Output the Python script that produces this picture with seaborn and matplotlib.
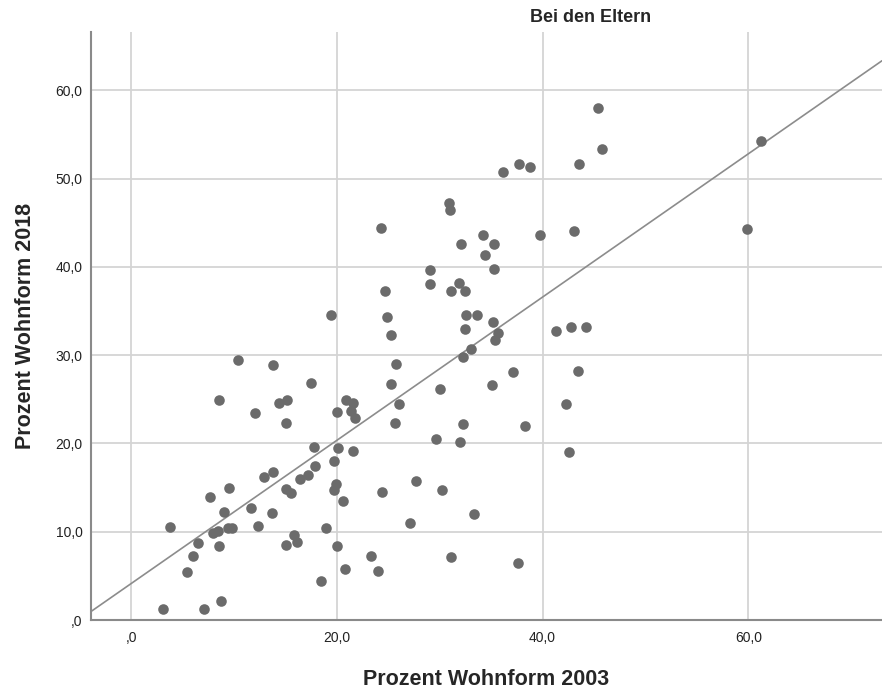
import numpy as np
import pandas as pd
import matplotlib
matplotlib.use('Agg')
from matplotlib import pyplot as plt
from matplotlib.ticker import FuncFormatter, MultipleLocator
import seaborn as sns

# Prozent Wohnform "Bei den Eltern", 2003 vs 2018
x2003 = [3.1, 7.1, 8.7, 5.4, 6.0, 6.5, 8.5, 3.8, 8.0, 8.4,
         9.45, 9.8, 7.7, 9.0, 9.5, 11.65, 12.3, 13.7, 12.9, 13.8,
         15.1, 15.5, 15.8, 16.1, 15.1, 16.4, 17.2, 17.9, 17.8, 18.5,
         18.9, 19.7, 19.9, 19.75, 20.0, 20.1, 20.6, 20.8, 21.6, 8.5,
         10.4, 12.0, 13.8, 14.4, 15.2, 15.1, 17.5, 19.4, 20.0, 20.9,
         21.6, 21.4, 21.75, 23.3, 24.0, 24.4, 24.3, 24.7, 24.9, 25.3,
         25.3, 25.7, 25.8, 26.0, 27.1, 27.7, 29.1, 29.1, 29.6, 30.0,
         30.2, 30.9, 31.0, 31.1, 31.1, 31.85, 32.5, 32.1, 32.0, 32.3,
         32.3, 32.5, 32.6, 33.0, 33.3, 33.6, 34.2, 34.4, 35.1, 35.2,
         35.3, 35.3, 35.7, 35.4, 36.2, 37.1, 37.6, 37.7, 38.25, 38.8,
         39.75, 41.3, 42.3, 42.6, 42.8, 43.1, 43.4, 43.5, 44.2, 45.4,
         45.8, 59.9, 61.2]
y2018 = [1.2, 1.3, 2.2, 5.4, 7.2, 8.7, 8.4, 10.55, 9.9, 10.1,
         10.4, 10.4, 13.9, 12.25, 15.0, 12.7, 10.7, 12.1, 16.2, 16.8,
         14.8, 14.4, 9.6, 8.8, 8.55, 16.0, 16.4, 17.4, 19.6, 4.4,
         10.4, 18.0, 15.35, 14.7, 8.4, 19.5, 13.5, 5.8, 19.1, 24.9,
         29.4, 23.5, 28.9, 24.6, 24.9, 22.3, 26.9, 34.6, 23.6, 24.9,
         24.6, 23.65, 22.85, 7.2, 5.5, 14.55, 44.45, 37.3, 34.3, 32.3,
         26.7, 22.3, 29.0, 24.5, 11.0, 15.7, 39.6, 38.1, 20.5, 26.2,
         14.7, 47.25, 46.4, 7.15, 37.3, 38.2, 37.3, 42.6, 20.2, 22.2,
         29.8, 33.0, 34.5, 30.7, 12.0, 34.6, 43.6, 41.3, 26.6, 33.8,
         42.6, 39.8, 32.5, 31.7, 50.7, 28.1, 6.4, 51.7, 22.0, 51.3,
         43.65, 32.7, 24.5, 19.05, 33.2, 44.1, 28.2, 51.7, 33.2, 58.0,
         53.4, 44.3, 54.2]

df = pd.DataFrame({'x': x2003, 'y': y2018})

sns.set_style('white')
plt.rcParams['font.family'] = ['Liberation Sans', 'DejaVu Sans']

fig = plt.figure(figsize=(8.82, 6.93), dpi=100)
ax = fig.add_axes([91 / 882, 73 / 693, 1 - 91 / 882, 588 / 693])

ax.set_xlim(-3.9, 73.0)
ax.set_ylim(0, 66.6)
ax.xaxis.set_major_locator(MultipleLocator(20))
ax.yaxis.set_major_locator(MultipleLocator(10))
ax.grid(True, color='#d4d4d4', linewidth=1.3)
ax.set_axisbelow(True)

sns.regplot(data=df, x='x', y='y', ax=ax, ci=None, truncate=False,
            scatter_kws=dict(s=58, color='#6b6b6b', alpha=1, linewidths=0, zorder=3),
            line_kws=dict(color='#8c8c8c', linewidth=1.2, zorder=2))

def fmt(v, pos):
    s = '{:.1f}'.format(v).replace('.', ',')
    return s[1:] if s.startswith('0') else s

ax.xaxis.set_major_formatter(FuncFormatter(fmt))
ax.yaxis.set_major_formatter(FuncFormatter(fmt))
ax.tick_params(axis='both', length=0, labelsize=10, colors='#222222')
ax.tick_params(axis='x', pad=8)
ax.tick_params(axis='y', pad=6)

sns.despine(ax=ax, top=True, right=True)
for side in ['left', 'bottom']:
    ax.spines[side].set_color('#8a8a8a')
    ax.spines[side].set_linewidth(1.5)

ax.set_xlabel('Prozent Wohnform 2003', fontsize=15.5, fontweight='bold', labelpad=17)
ax.set_ylabel('Prozent Wohnform 2018', fontsize=15.5, fontweight='bold', labelpad=14)
fig.text(591 / 882, 1 - 18 / 693, 'Bei den Eltern', ha='center', va='center',
         fontsize=13, fontweight='bold')

fig.savefig('out.png', dpi=100)
